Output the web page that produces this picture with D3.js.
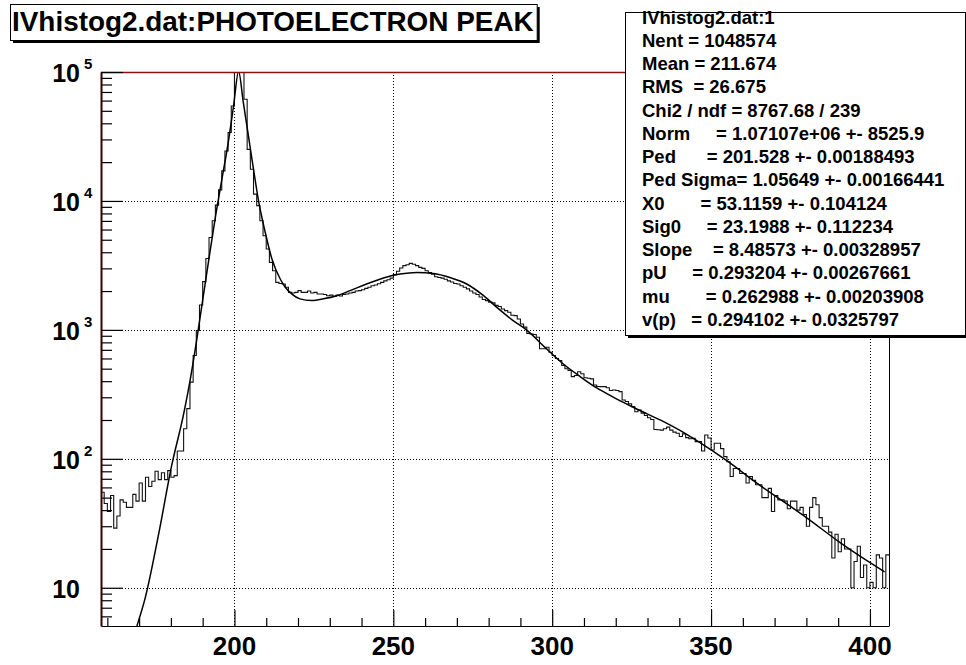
<!DOCTYPE html>
<html><head><meta charset="utf-8">
<script src="https://cdn.jsdelivr.net/npm/d3@7/dist/d3.min.js"></script>
<style>
body{margin:0;background:#fff;}
svg text{font-family:"Liberation Sans",Arial,Helvetica,sans-serif;font-weight:bold;fill:#000;}
</style></head><body>
<svg id="c" width="966" height="665"></svg>
<script>
// ---------------- data ----------------
const binStart = 158;          // low edge of the first 1-unit bin
const binCounts = [
  55,45,39,52,29,36,48,46,42,42,
  53,47,65,47,72,61,67,80,69,78,
  69,81,72,74,115,115,171,245,393,632,
  990,1560,2365,3580,5210,7020,9280,12190,17100,24400,
  33900,54500,140000,220000,130000,61400,25100,17600,11300,9200,
  7020,5370,4240,3340,2875,2335,2290,2270,2140,1955,
  1930,1955,2015,1955,1955,2000,1930,1955,1900,1900,
  1880,1840,1860,1820,1860,1830,1880,1900,1930,1955,
  2000,2015,2050,2100,2140,2200,2230,2280,2335,2400,
  2450,2520,2680,2845,3020,3150,3200,3280,3230,3150,
  3055,3000,2875,2780,2700,2580,2550,2520,2470,2400,
  2350,2290,2270,2200,2140,2080,2000,1930,1880,1800,
  1720,1685,1640,1620,1550,1520,1450,1410,1370,1300,
  1290,1215,1110,1050,940,930,920,877,713,713,
  734,671,632,600,578,529,499,484,434,443,
  474,457,425,421,417,374,364,363,363,356,
  339,342,339,332,286,278,267,254,232,239,
  226,217,208,202,169,168,167,171,176,167,
  161,158,149,156,146,143,144,136,136,115,
  153,145,117,132,132,120,104,95,73,84,
  84,77,77,65,73,68,63,63,50,50,
  59,39,52,48,48,47,41,47,47,40,
  42,37,30,42,50,44,35,30,30,27,
  17,26,19,24,20,20,10,16,21,12,
  15,10,11,10,18,17,10,18
];
const fitX = [169.3,171.9,176,180.3,184,186,188,190,192,194,196,198,199.7,201.3,202.8,204.4,206,207.5,209.7,211.8,214.4,216,218,220.6,224.3,228,232.2,236.4,241.6,246.9,252.1,257.4,262.6,267.8,273.1,278.3,282.5,287.7,291.9,298.2,303.4,308.7,313.9,319.2,324.4,329.7,334.9,340.2,345.4,355.4,364.3,372,380,390.5,397,404.6];
const fitY = [5.06,8.3,25,90,222,400,800,1700,3600,7500,14500,28000,54000,101000,57800,31900,17600,10300,5690,3540,2480,2140,1900,1740,1690,1740,1840,2015,2270,2525,2710,2790,2740,2550,2270,1850,1500,1180,1000,713,546,436,356,301,259,224,195,166,139,95,65,48,35,22.5,17.5,13.3];
const xTicks = [200,250,300,350,400];
const xMinorTicks = [160,170,180,190,210,220,230,240,260,270,280,290,310,320,330,340,360,370,380,390];
const xTickLabels = ["200","250","300","350","400"];
const yTicks = [10,100,1000,10000,100000];
const yExponents = ["","2","3","4","5"];
const yMinorTicks = [6,7,8,9,20,30,40,50,60,70,80,90,200,300,400,500,600,700,800,900,
  2000,3000,4000,5000,6000,7000,8000,9000,20000,30000,40000,50000,60000,70000,80000,90000];
const titleText = "IVhistog2.dat:PHOTOELECTRON PEAK";
const statsLines = [
  "IVhistog2.dat:1",
  "Nent = 1048574",
  "Mean = 211.674",
  "RMS  = 26.675",
  "Chi2 / ndf = 8767.68 / 239",
  "Norm     = 1.07107e+06 +- 8525.9",
  "Ped      = 201.528 +- 0.00188493",
  "Ped Sigma= 1.05649 +- 0.00166441",
  "X0       = 53.1159 +- 0.104124",
  "Sig0     = 23.1988 +- 0.112234",
  "Slope    = 8.48573 +- 0.00328957",
  "pU     = 0.293204 +- 0.00267661",
  "mu       = 0.262988 +- 0.00203908",
  "v(p)   = 0.294102 +- 0.0325797"
];

// ---------------- layout ----------------
const L=101, R=889, T=72, B=626;
const svg = d3.select("#c");
const x = d3.scaleLinear().domain([158,406]).range([L,R]);
const y = d3.scaleLog().domain([5.05,1e5]).range([B,T]);

svg.append("defs").append("clipPath").attr("id","frameClip")
  .append("rect").attr("x",L).attr("y",T).attr("width",R-L).attr("height",B-T);

// grid
const grid = svg.append("g").attr("stroke","#000").attr("stroke-width",1).attr("stroke-dasharray","1,2");
grid.selectAll("line.gx").data(xTicks).join("line").attr("class","gx")
  .attr("x1",d=>Math.round(x(d))+0.5).attr("x2",d=>Math.round(x(d))+0.5)
  .attr("y1",T).attr("y2",B);
grid.selectAll("line.gy").data(yTicks.filter(v=>v<1e5)).join("line").attr("class","gy")
  .attr("y1",d=>Math.round(y(d))+0.5).attr("y2",d=>Math.round(y(d))+0.5)
  .attr("x1",L).attr("x2",R);

// histogram
const plot = svg.append("g").attr("clip-path","url(#frameClip)");
const histPts = binCounts.map((c,i)=>[binStart+i,c]);
histPts.push([binStart+binCounts.length, binCounts[binCounts.length-1]]);
plot.append("path")
  .attr("d", d3.line().x(d=>x(d[0])).y(d=>y(d[1])).curve(d3.curveStepAfter)(histPts))
  .attr("fill","none").attr("stroke","#111").attr("stroke-width",1.1);

// fit curve
const fitPts = fitX.map((v,i)=>[v,fitY[i]]);
plot.append("path")
  .attr("d", d3.line().x(d=>x(d[0])).y(d=>y(d[1])).curve(d3.curveMonotoneX)(fitPts))
  .attr("fill","none").attr("stroke","#000").attr("stroke-width",1.5);

// frame
svg.append("line").attr("x1",L).attr("x2",R).attr("y1",T+0.5).attr("y2",T+0.5)
  .attr("stroke","#8b1010").attr("stroke-width",1.5);
svg.append("line").attr("x1",R+0.5).attr("x2",R+0.5).attr("y1",T).attr("y2",B)
  .attr("stroke","#000").attr("stroke-width",1);

// axes
const ax = svg.append("g").attr("transform",`translate(0,${B})`);
ax.call(d3.axisBottom(x).tickValues(xTicks).tickSize(-16).tickSizeOuter(0).tickFormat(""));
ax.append("g").call(d3.axisBottom(x).tickValues(xMinorTicks).tickSize(-8).tickSizeOuter(0).tickFormat(""))
  .select(".domain").remove();
ax.selectAll("line,path").attr("stroke","#000").attr("stroke-width",1.2);

const ay = svg.append("g").attr("transform",`translate(${L},0)`);
ay.call(d3.axisLeft(y).tickValues(yTicks).tickSize(-22).tickSizeOuter(0).tickFormat(""));
ay.append("g").call(d3.axisLeft(y).tickValues(yMinorTicks).tickSize(-11).tickSizeOuter(0).tickFormat(""))
  .select(".domain").remove();
ay.selectAll("line,path").attr("stroke","#000").attr("stroke-width",1.2);
ay.select(".domain").attr("stroke","#3a0000").attr("stroke-width",2);

// x labels
svg.append("g").selectAll("text").data(xTicks).join("text")
  .attr("x",d=>x(d)).attr("y",655).attr("text-anchor","middle")
  .attr("font-size",26).text((d,i)=>xTickLabels[i]);

// y labels
const yl = svg.append("g");
yTicks.forEach((v,i)=>{
  yl.append("text").attr("x",80).attr("y",y(v)+10).attr("text-anchor","end")
    .attr("font-size",25).text("10");
  if(yExponents[i]) yl.append("text").attr("x",84).attr("y",y(v)-3)
    .attr("font-size",15).text(yExponents[i]);
});

// stats box
const sb = {x:625,y:12,w:340,h:323};
const sg = svg.append("g");
sg.append("rect").attr("x",sb.x+3).attr("y",sb.y+3).attr("width",sb.w).attr("height",sb.h).attr("fill","#000");
sg.append("rect").attr("x",sb.x+0.5).attr("y",sb.y+0.5).attr("width",sb.w).attr("height",sb.h)
  .attr("fill","#fff").attr("stroke","#000").attr("stroke-width",1);
sg.selectAll("text").data(statsLines).join("text")
  .attr("x",642).attr("y",(d,i)=>23.5+i*23.27).attr("font-size",18.5)
  .style("white-space","pre").text(d=>d);

// title box
const tg = svg.append("g");
const shadow = tg.append("rect").attr("fill","#000");
const box = tg.append("rect").attr("fill","#fff").attr("stroke","#000").attr("stroke-width",1);
const tt = tg.append("text").attr("x",12).attr("y",31).attr("font-size",27.9).text(titleText);
const bb = tt.node().getBBox();
const tb = {x:10,y:4,w:bb.width+5,h:36};
shadow.attr("x",tb.x+3).attr("y",tb.y+3).attr("width",tb.w).attr("height",tb.h);
box.attr("x",tb.x+0.5).attr("y",tb.y+0.5).attr("width",tb.w).attr("height",tb.h);
</script>
</body></html>
